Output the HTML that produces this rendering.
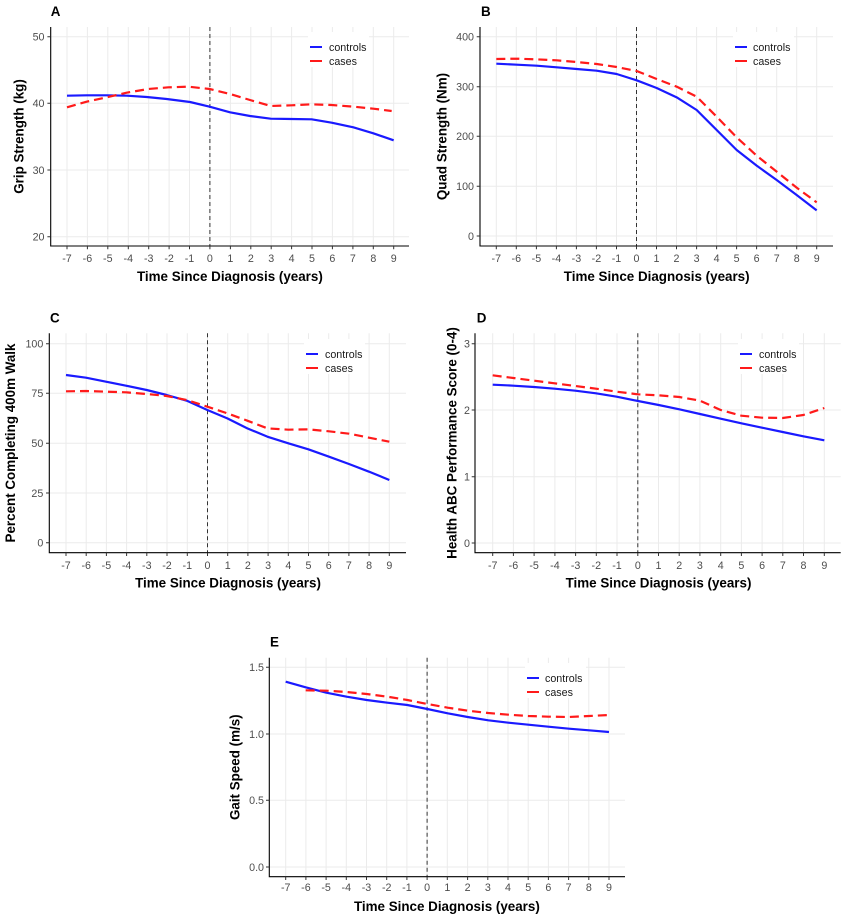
<!DOCTYPE html>
<html><head><meta charset="utf-8">
<style>
html,body{margin:0;padding:0;background:#fff;}
svg{display:block;}
.g{stroke:#ebebeb;stroke-width:1;fill:none;}
.ax{stroke:#000;stroke-width:1.1;fill:none;}
.tk{stroke:#333;stroke-width:1;fill:none;}
.z{stroke:#333;stroke-width:1;stroke-dasharray:4,3;fill:none;}
.tl{font-family:"Liberation Sans",Arial,sans-serif;font-size:10.7px;fill:#4d4d4d;}
.tx{font-family:"Liberation Sans",Arial,sans-serif;font-size:10.7px;fill:#4d4d4d;text-anchor:middle;}
.ty{font-family:"Liberation Sans",Arial,sans-serif;font-size:10.7px;fill:#4d4d4d;text-anchor:end;}
.at{font-family:"Liberation Sans",Arial,sans-serif;font-size:13.4px;font-weight:bold;fill:#000;text-anchor:middle;}
.pt{font-family:"Liberation Sans",Arial,sans-serif;font-size:13.4px;font-weight:bold;fill:#000;}
.lg{font-family:"Liberation Sans",Arial,sans-serif;font-size:10.7px;fill:#1a1a1a;}
.bl{stroke:#1a1aff;stroke-width:6.6;fill:none;stroke-linejoin:round;}
.rd{stroke:#ff1a1a;stroke-width:6.6;fill:none;stroke-dasharray:27,15;stroke-linejoin:round;}
.lb{stroke:#1a1aff;stroke-width:2;}
.lr{stroke:#ff1a1a;stroke-width:2;}
</style></head>
<body>
<svg width="845" height="918" viewBox="0 0 845 918" xmlns="http://www.w3.org/2000/svg">
<rect width="845" height="918" fill="#fff"/>

<!-- ================= PANEL A ================= -->
<path class="g" d="M67 27V246M87.4 27V246M107.8 27V246M128.3 27V246M148.7 27V246M169.1 27V246M189.5 27V246M209.9 27V246M230.4 27V246M250.8 27V246M271.2 27V246M291.6 27V246M312 27V246M332.4 27V246M352.9 27V246M373.3 27V246M393.7 27V246M50.7 36.7H409M50.7 103.3H409M50.7 170H409M50.7 236.7H409"/>
<rect x="308" y="32" width="61" height="35" fill="#fff"/>
<path class="z" d="M209.9 27V246"/>
<g transform="scale(0.33333)">
<polyline class="bl" points="201,287 260,286 320,286 380,287 440,291 500,297 570,306 629,320 690,337 750,348 812,356 875,357 935,358 995,368 1060,382 1120,400 1181,421"/>
<polyline class="rd" points="201,322 260,305 320,292 380,278 445,267 505,262 565,260 629,267 690,282 750,300 812,318 875,316 935,313 995,315 1060,320 1120,326 1175,333"/>
</g>
<path class="ax" d="M50.7 27V246H409"/>
<path class="tk" d="M67 246v3.3M87.4 246v3.3M107.8 246v3.3M128.3 246v3.3M148.7 246v3.3M169.1 246v3.3M189.5 246v3.3M209.9 246v3.3M230.4 246v3.3M250.8 246v3.3M271.2 246v3.3M291.6 246v3.3M312 246v3.3M332.4 246v3.3M352.9 246v3.3M373.3 246v3.3M393.7 246v3.3M47.4 36.7h3.3M47.4 103.3h3.3M47.4 170h3.3M47.4 236.7h3.3"/>
<text class="ty" x="44.5" y="40.5">50</text>
<text class="ty" x="44.5" y="107.1">40</text>
<text class="ty" x="44.5" y="173.8">30</text>
<text class="ty" x="44.5" y="240.5">20</text>
<text class="tx" x="67" y="262">-7</text><text class="tx" x="87.4" y="262">-6</text><text class="tx" x="107.8" y="262">-5</text><text class="tx" x="128.3" y="262">-4</text><text class="tx" x="148.7" y="262">-3</text><text class="tx" x="169.1" y="262">-2</text><text class="tx" x="189.5" y="262">-1</text><text class="tx" x="209.9" y="262">0</text><text class="tx" x="230.4" y="262">1</text><text class="tx" x="250.8" y="262">2</text><text class="tx" x="271.2" y="262">3</text><text class="tx" x="291.6" y="262">4</text><text class="tx" x="312" y="262">5</text><text class="tx" x="332.4" y="262">6</text><text class="tx" x="352.9" y="262">7</text><text class="tx" x="373.3" y="262">8</text><text class="tx" x="393.7" y="262">9</text>
<text class="at" x="229.9" y="281">Time Since Diagnosis (years)</text>
<text class="at" transform="translate(23.3,136.5) rotate(-90)">Grip Strength (kg)</text>
<text class="pt" x="50.7" y="16">A</text>
<path class="lb" d="M310 47h12"/><path class="lr" d="M310 61h12"/>
<text class="lg" x="329" y="50.8">controls</text>
<text class="lg" x="329" y="64.8">cases</text>

<!-- ================= PANEL B ================= -->
<path class="g" d="M496.3 27V246M516.3 27V246M536.4 27V246M556.4 27V246M576.4 27V246M596.4 27V246M616.5 27V246M636.5 27V246M656.5 27V246M676.5 27V246M696.6 27V246M716.6 27V246M736.6 27V246M756.6 27V246M776.7 27V246M796.7 27V246M816.7 27V246M480 36.7H833M480 86.7H833M480 136.3H833M480 186.3H833M480 236H833"/>
<rect x="733" y="32" width="61" height="35" fill="#fff"/>
<path class="z" d="M636.5 27V246"/>
<g transform="translate(420,0) scale(0.33333)">
<polyline class="bl" points="229,191 290,194 350,197 410,202 470,207 530,212 590,222 650,241 710,264 770,292 830,330 890,390 950,450 1010,497 1070,540 1130,585 1190,631"/>
<polyline class="rd" points="229,177 290,176 350,178 410,181 470,186 530,192 590,201 650,213 710,237 770,260 830,290 890,350 950,412 1010,467 1070,515 1130,563 1190,607"/>
</g>
<path class="ax" d="M480 27V246H833"/>
<path class="tk" d="M496.3 246v3.3M516.3 246v3.3M536.4 246v3.3M556.4 246v3.3M576.4 246v3.3M596.4 246v3.3M616.5 246v3.3M636.5 246v3.3M656.5 246v3.3M676.5 246v3.3M696.6 246v3.3M716.6 246v3.3M736.6 246v3.3M756.6 246v3.3M776.7 246v3.3M796.7 246v3.3M816.7 246v3.3M476.7 36.7h3.3M476.7 86.7h3.3M476.7 136.3h3.3M476.7 186.3h3.3M476.7 236h3.3"/>
<text class="ty" x="474" y="40.5">400</text>
<text class="ty" x="474" y="90.5">300</text>
<text class="ty" x="474" y="140.1">200</text>
<text class="ty" x="474" y="190.1">100</text>
<text class="ty" x="474" y="239.8">0</text>
<text class="tx" x="496.3" y="262">-7</text><text class="tx" x="516.3" y="262">-6</text><text class="tx" x="536.4" y="262">-5</text><text class="tx" x="556.4" y="262">-4</text><text class="tx" x="576.4" y="262">-3</text><text class="tx" x="596.4" y="262">-2</text><text class="tx" x="616.5" y="262">-1</text><text class="tx" x="636.5" y="262">0</text><text class="tx" x="656.5" y="262">1</text><text class="tx" x="676.5" y="262">2</text><text class="tx" x="696.6" y="262">3</text><text class="tx" x="716.6" y="262">4</text><text class="tx" x="736.6" y="262">5</text><text class="tx" x="756.6" y="262">6</text><text class="tx" x="776.7" y="262">7</text><text class="tx" x="796.7" y="262">8</text><text class="tx" x="816.7" y="262">9</text>
<text class="at" x="656.7" y="281">Time Since Diagnosis (years)</text>
<text class="at" transform="translate(446.5,136.5) rotate(-90)">Quad Strength (Nm)</text>
<text class="pt" x="481" y="16">B</text>
<path class="lb" d="M735 47h12"/><path class="lr" d="M735 61h12"/>
<text class="lg" x="753" y="50.8">controls</text>
<text class="lg" x="753" y="64.8">cases</text>

<!-- ================= PANEL C ================= -->
<path class="g" d="M66 333.3V552.7M86.2 333.3V552.7M106.4 333.3V552.7M126.6 333.3V552.7M146.8 333.3V552.7M167 333.3V552.7M187.3 333.3V552.7M207.5 333.3V552.7M227.7 333.3V552.7M247.9 333.3V552.7M268.1 333.3V552.7M288.3 333.3V552.7M308.5 333.3V552.7M328.7 333.3V552.7M348.9 333.3V552.7M369.1 333.3V552.7M389.3 333.3V552.7M49.3 343.7H406M49.3 393.3H406M49.3 443.3H406M49.3 493H406M49.3 542.7H406"/>
<rect x="304" y="339" width="61" height="35" fill="#fff"/>
<path class="z" d="M207.5 333.3V552.7"/>
<g transform="translate(0,300) scale(0.33333)">
<polyline class="bl" points="198,225 258,233 318,245 378,257 440,270 500,285 560,302 622,330 682,355 742,385 802,410 865,430 925,448 987,470 1047,492 1107,515 1168,540"/>
<polyline class="rd" points="198,274 258,273 318,275 378,277 440,282 500,288 560,300 622,320 682,340 742,362 802,385 865,389 925,388 987,394 1047,401 1107,413 1168,425"/>
</g>
<path class="ax" d="M49.3 333.3V552.7H406"/>
<path class="tk" d="M66 552.7v3.3M86.2 552.7v3.3M106.4 552.7v3.3M126.6 552.7v3.3M146.8 552.7v3.3M167 552.7v3.3M187.3 552.7v3.3M207.5 552.7v3.3M227.7 552.7v3.3M247.9 552.7v3.3M268.1 552.7v3.3M288.3 552.7v3.3M308.5 552.7v3.3M328.7 552.7v3.3M348.9 552.7v3.3M369.1 552.7v3.3M389.3 552.7v3.3M46 343.7h3.3M46 393.3h3.3M46 443.3h3.3M46 493h3.3M46 542.7h3.3"/>
<text class="ty" x="43.3" y="347.5">100</text>
<text class="ty" x="43.3" y="397.1">75</text>
<text class="ty" x="43.3" y="447.1">50</text>
<text class="ty" x="43.3" y="496.8">25</text>
<text class="ty" x="43.3" y="546.5">0</text>
<text class="tx" x="66" y="568.8">-7</text><text class="tx" x="86.2" y="568.8">-6</text><text class="tx" x="106.4" y="568.8">-5</text><text class="tx" x="126.6" y="568.8">-4</text><text class="tx" x="146.8" y="568.8">-3</text><text class="tx" x="167" y="568.8">-2</text><text class="tx" x="187.3" y="568.8">-1</text><text class="tx" x="207.5" y="568.8">0</text><text class="tx" x="227.7" y="568.8">1</text><text class="tx" x="247.9" y="568.8">2</text><text class="tx" x="268.1" y="568.8">3</text><text class="tx" x="288.3" y="568.8">4</text><text class="tx" x="308.5" y="568.8">5</text><text class="tx" x="328.7" y="568.8">6</text><text class="tx" x="348.9" y="568.8">7</text><text class="tx" x="369.1" y="568.8">8</text><text class="tx" x="389.3" y="568.8">9</text>
<text class="at" x="228" y="587.3">Time Since Diagnosis (years)</text>
<text class="at" transform="translate(15,443) rotate(-90)">Percent Completing 400m Walk</text>
<text class="pt" x="50" y="322.7">C</text>
<path class="lb" d="M306 354h12"/><path class="lr" d="M306 368h12"/>
<text class="lg" x="325" y="357.8">controls</text>
<text class="lg" x="325" y="371.8">cases</text>

<!-- ================= PANEL D ================= -->
<path class="g" d="M492.7 333.3V552.7M513.4 333.3V552.7M534.1 333.3V552.7M554.9 333.3V552.7M575.6 333.3V552.7M596.3 333.3V552.7M617 333.3V552.7M637.8 333.3V552.7M658.5 333.3V552.7M679.2 333.3V552.7M699.9 333.3V552.7M720.7 333.3V552.7M741.4 333.3V552.7M762.1 333.3V552.7M782.8 333.3V552.7M803.5 333.3V552.7M824.3 333.3V552.7M475 343.7H840.7M475 410H840.7M475 476.7H840.7M475 543H840.7"/>
<rect x="738" y="339" width="61" height="35" fill="#fff"/>
<path class="z" d="M637.8 333.3V552.7"/>
<g transform="translate(420,300) scale(0.33333)">
<polyline class="bl" points="218,254 280,257 342,261 404,266 466,272 528,280 590,290 654,303 716,315 778,328 840,342 902,356 964,370 1026,383 1088,396 1150,409 1213,421"/>
<polyline class="rd" points="218,226 280,234 342,242 404,250 466,258 528,266 590,275 654,283 716,286 778,291 840,302 902,330 964,347 1026,353 1088,354 1150,345 1213,324"/>
</g>
<path class="ax" d="M475 333.3V552.7H840.7"/>
<path class="tk" d="M492.7 552.7v3.3M513.4 552.7v3.3M534.1 552.7v3.3M554.9 552.7v3.3M575.6 552.7v3.3M596.3 552.7v3.3M617 552.7v3.3M637.8 552.7v3.3M658.5 552.7v3.3M679.2 552.7v3.3M699.9 552.7v3.3M720.7 552.7v3.3M741.4 552.7v3.3M762.1 552.7v3.3M782.8 552.7v3.3M803.5 552.7v3.3M824.3 552.7v3.3M471.7 343.7h3.3M471.7 410h3.3M471.7 476.7h3.3M471.7 543h3.3"/>
<text class="ty" x="470" y="347.5">3</text>
<text class="ty" x="470" y="413.8">2</text>
<text class="ty" x="470" y="480.5">1</text>
<text class="ty" x="470" y="546.8">0</text>
<text class="tx" x="492.7" y="568.8">-7</text><text class="tx" x="513.4" y="568.8">-6</text><text class="tx" x="534.1" y="568.8">-5</text><text class="tx" x="554.9" y="568.8">-4</text><text class="tx" x="575.6" y="568.8">-3</text><text class="tx" x="596.3" y="568.8">-2</text><text class="tx" x="617" y="568.8">-1</text><text class="tx" x="637.8" y="568.8">0</text><text class="tx" x="658.5" y="568.8">1</text><text class="tx" x="679.2" y="568.8">2</text><text class="tx" x="699.9" y="568.8">3</text><text class="tx" x="720.7" y="568.8">4</text><text class="tx" x="741.4" y="568.8">5</text><text class="tx" x="762.1" y="568.8">6</text><text class="tx" x="782.8" y="568.8">7</text><text class="tx" x="803.5" y="568.8">8</text><text class="tx" x="824.3" y="568.8">9</text>
<text class="at" x="658.5" y="587.3">Time Since Diagnosis (years)</text>
<text class="at" transform="translate(456.5,443) rotate(-90)">Health ABC Performance Score (0-4)</text>
<text class="pt" x="476.7" y="322.7">D</text>
<path class="lb" d="M740 354h12"/><path class="lr" d="M740 368h12"/>
<text class="lg" x="759" y="357.8">controls</text>
<text class="lg" x="759" y="371.8">cases</text>

<!-- ================= PANEL E ================= -->
<path class="g" d="M285.7 657.7V876.7M305.9 657.7V876.7M326.1 657.7V876.7M346.3 657.7V876.7M366.5 657.7V876.7M386.7 657.7V876.7M406.9 657.7V876.7M427.1 657.7V876.7M447.3 657.7V876.7M467.6 657.7V876.7M487.8 657.7V876.7M508 657.7V876.7M528.2 657.7V876.7M548.4 657.7V876.7M568.6 657.7V876.7M588.8 657.7V876.7M609 657.7V876.7M269.3 667.3H625M269.3 734H625M269.3 800.3H625M269.3 867H625"/>
<rect x="525" y="663" width="61" height="35" fill="#fff"/>
<path class="z" d="M427.1 657.7V876.7"/>
<g transform="translate(215,620) scale(0.33333)">
<polyline class="bl" points="212,185 272,202 334,218 395,230 455,240 517,248 577,255 637,267 698,280 758,291 820,301 880,308 940,314 1000,320 1062,326 1122,331 1182,336"/>
<polyline class="rd" points="272,211 334,212 395,216 455,222 517,230 577,240 637,252 698,263 758,272 820,279 880,284 940,288 1000,290 1062,291 1122,288 1182,285"/>
</g>
<path class="ax" d="M269.3 657.7V876.7H625"/>
<path class="tk" d="M285.7 876.7v3.3M305.9 876.7v3.3M326.1 876.7v3.3M346.3 876.7v3.3M366.5 876.7v3.3M386.7 876.7v3.3M406.9 876.7v3.3M427.1 876.7v3.3M447.3 876.7v3.3M467.6 876.7v3.3M487.8 876.7v3.3M508 876.7v3.3M528.2 876.7v3.3M548.4 876.7v3.3M568.6 876.7v3.3M588.8 876.7v3.3M609 876.7v3.3M266 667.3h3.3M266 734h3.3M266 800.3h3.3M266 867h3.3"/>
<text class="ty" x="264" y="671.1">1.5</text>
<text class="ty" x="264" y="737.8">1.0</text>
<text class="ty" x="264" y="804.1">0.5</text>
<text class="ty" x="264" y="870.8">0.0</text>
<text class="tx" x="285.7" y="891">-7</text><text class="tx" x="305.9" y="891">-6</text><text class="tx" x="326.1" y="891">-5</text><text class="tx" x="346.3" y="891">-4</text><text class="tx" x="366.5" y="891">-3</text><text class="tx" x="386.7" y="891">-2</text><text class="tx" x="406.9" y="891">-1</text><text class="tx" x="427.1" y="891">0</text><text class="tx" x="447.3" y="891">1</text><text class="tx" x="467.6" y="891">2</text><text class="tx" x="487.8" y="891">3</text><text class="tx" x="508" y="891">4</text><text class="tx" x="528.2" y="891">5</text><text class="tx" x="548.4" y="891">6</text><text class="tx" x="568.6" y="891">7</text><text class="tx" x="588.8" y="891">8</text><text class="tx" x="609" y="891">9</text>
<text class="at" x="446.9" y="910.8">Time Since Diagnosis (years)</text>
<text class="at" transform="translate(239.7,767.2) rotate(-90)">Gait Speed (m/s)</text>
<text class="pt" x="270" y="646.7">E</text>
<path class="lb" d="M527 678h12"/><path class="lr" d="M527 692h12"/>
<text class="lg" x="545" y="681.8">controls</text>
<text class="lg" x="545" y="695.8">cases</text>
</svg>
</body></html>
